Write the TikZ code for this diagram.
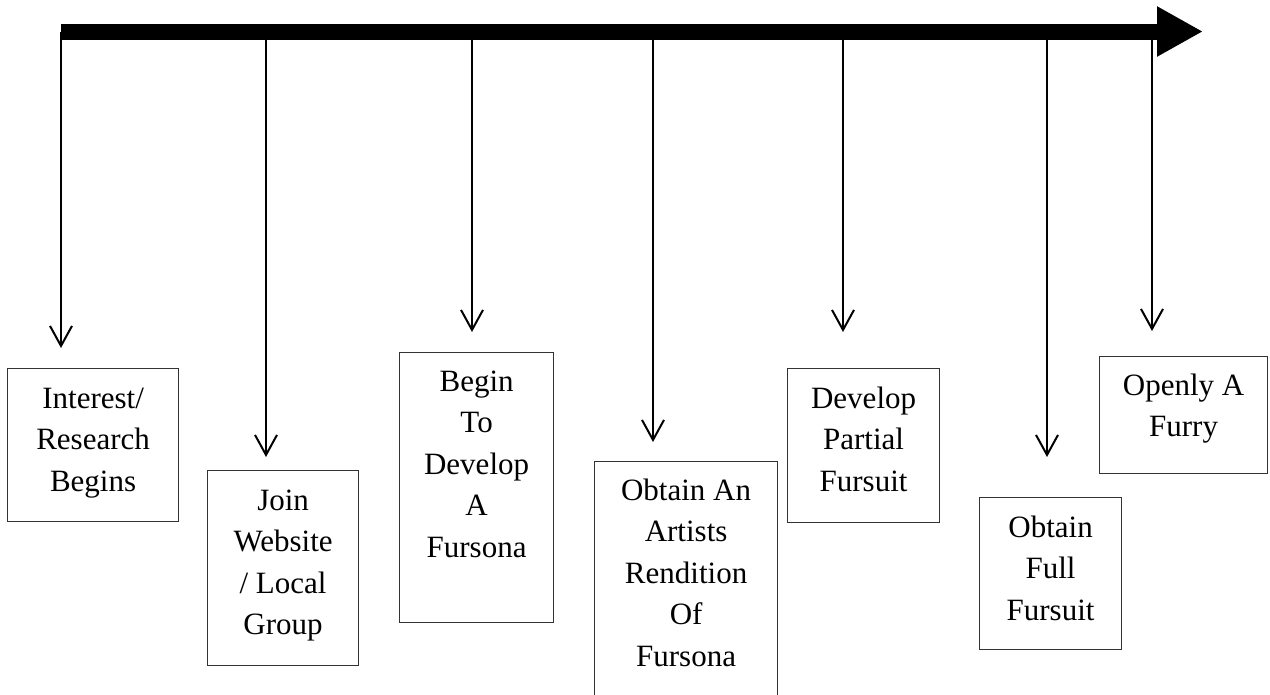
\documentclass[tikz,border=0pt]{standalone}
\usepackage{fontspec}
\setmainfont{Liberation Serif}
\usetikzlibrary{arrows.meta,calc}
\begin{document}
\begin{tikzpicture}[x=1pt,y=1pt,
  stagebox/.style={draw=black!80, line width=1.2pt, inner sep=0pt, anchor=north west},
  lbl/.style={inner sep=0pt, anchor=north, align=center, font={\fontsize{31}{41.5}\selectfont}},
  drop/.style={line width=2pt, -{Straight Barb[length=20pt,width=22pt]}},
  timebar/.style={line width=16pt, -{Triangle[length=46pt,width=47pt]}}]
\useasboundingbox (0,0) rectangle (1270,-694);
% boxes
\node[stagebox, minimum width=171, minimum height=153] (b1) at (7,-368) {};
\node[stagebox, minimum width=151, minimum height=195] (b2) at (207,-470) {};
\node[stagebox, minimum width=154, minimum height=270] (b3) at (399,-352) {};
\node[stagebox, minimum width=183, minimum height=245] (b4) at (594,-461) {};
\node[stagebox, minimum width=152, minimum height=154] (b5) at (787,-368) {};
\node[stagebox, minimum width=142, minimum height=152] (b6) at (979,-497) {};
\node[stagebox, minimum width=168, minimum height=117] (b7) at (1099,-356) {};
% texts
\node[lbl] (t1) at ($(b1.north)+(0,-11)$) {\strut Interest/\\\strut Research\\\strut Begins};
\node[lbl] (t2) at ($(b2.north)+(0,-11)$) {\strut Join\\\strut Website\\\strut / Local\\\strut Group};
\node[lbl] (t3) at ($(b3.north)+(0,-10)$) {\strut Begin\\\strut To\\\strut Develop\\\strut A\\\strut Fursona};
\node[lbl] (t4) at ($(b4.north)+(0,-10)$) {\strut Obtain An\\\strut Artists\\\strut Rendition\\\strut Of\\\strut Fursona};
\node[lbl] (t5) at ($(b5.north)+(0,-11)$) {\strut Develop\\\strut Partial\\\strut Fursuit};
\node[lbl] (t6) at ($(b6.north)+(0,-11)$) {\strut Obtain\\\strut Full\\\strut Fursuit};
\node[lbl] (t7) at ($(b7.north)+(0,-10)$) {\strut Openly A\\\strut Furry};
% connector coordinates
\coordinate (s1) at (61,-31.5);   \coordinate (e1) at (61,-348);
\coordinate (s2) at (266,-31.5);  \coordinate (e2) at (266,-457);
\coordinate (s3) at (472,-31.5);  \coordinate (e3) at (472,-332);
\coordinate (s4) at (653,-31.5);  \coordinate (e4) at (653,-442);
\coordinate (s5) at (843,-31.5);  \coordinate (e5) at (843,-332);
\coordinate (s6) at (1047,-31.5); \coordinate (e6) at (1047,-457);
\coordinate (s7) at (1152,-31.5); \coordinate (e7) at (1152,-331);
\foreach \i in {1,...,7} {\draw[drop] (s\i) -- (e\i);}
% time bar
\coordinate (bs) at (61,-31.5);
\coordinate (be) at (1203,-31.5);
\draw[timebar] (bs) -- (be);
\end{tikzpicture}
\end{document}
